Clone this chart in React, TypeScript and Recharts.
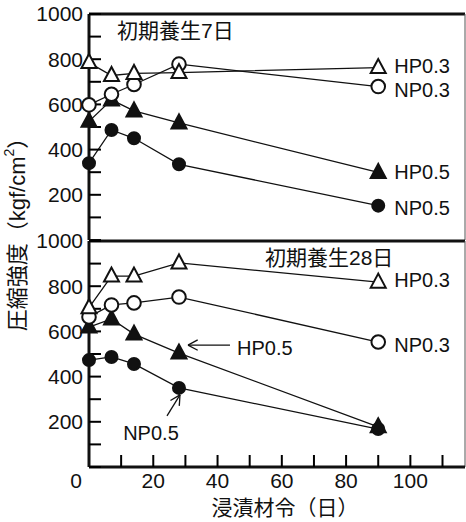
import { LineChart, Line, XAxis, YAxis, ReferenceLine, LabelList } from "recharts";

const FONT = "'Liberation Sans', Arial, 'Noto Sans CJK JP', sans-serif";

const days = [0, 7, 14, 28, 90];

// 初期養生7日
const hp03_7 = [785, 728, 737, 741, 763];
const np03_7 = [598, 645, 688, 778, 679];
const hp05_7 = [525, 620, 571, 518, 299];
const np05_7 = [340, 487, 450, 335, 152];

// 初期養生28日
const hp03_28 = [705, 845, 845, 903, 818];
const np03_28 = [664, 717, 726, 752, 553];
const hp05_28 = [619, 655, 588, 504, 178];
const np05_28 = [473, 487, 456, 350, 168];

const yTicks = [0, 100, 200, 300, 400, 500, 600, 700, 800, 900, 1000];
const yLabels = [200, 400, 600, 800, 1000];
const xTicks = [0, 10, 20, 30, 40, 50, 60, 70, 80, 90, 100, 110];
const xLabels = [0, 20, 40, 60, 80, 100];

const X_MAX = 117;
const Y_MAX = 1000;

const data7 = days.map((d, i) => ({ day: d, hp03: hp03_7[i], np03: np03_7[i], hp05: hp05_7[i], np05: np05_7[i] }));
const data28 = days.map((d, i) => ({ day: d, hp03: hp03_28[i], np03: np03_28[i], hp05: hp05_28[i], np05: np05_28[i] }));

const W = 466;
const H = 522;
const PLOT_L = 89;
const PLOT_R = W - 1;
const PANELS = [
  { top: 14, bottom: 240 },
  { top: 241, bottom: 467 },
];

// markers
const triangle = (filled: boolean) => (p: any) => {
  const { cx, cy, index } = p;
  if (cx == null || cy == null) return <g key={index} />;
  return (
    <polygon
      key={index}
      points={`${cx},${cy - 8.5} ${cx - 7.5},${cy + 5.5} ${cx + 7.5},${cy + 5.5}`}
      fill={filled ? "#111" : "#fff"}
      stroke="#111"
      strokeWidth={2}
    />
  );
};

const circle = (filled: boolean) => (p: any) => {
  const { cx, cy, index } = p;
  if (cx == null || cy == null) return <g key={index} />;
  return <circle key={index} cx={cx} cy={cy} r={filled ? 6 : 6.8} fill={filled ? "#111" : "#fff"} stroke="#111" strokeWidth={2} />;
};

const endLabel = (name: string, dy: number) => (p: any) => {
  if (p.index !== days.length - 1) return null;
  return (
    <text x={p.x + 16} y={p.y + dy} fontSize={20} fontFamily={FONT} fill="#111" dominantBaseline="central">
      {name}
    </text>
  );
};

function arrowHead(hx: number, hy: number, tx: number, ty: number) {
  const len = Math.hypot(tx - hx, ty - hy);
  const ux = (tx - hx) / len;
  const uy = (ty - hy) / len;
  const a = (28 * Math.PI) / 180;
  const l = 11;
  const r1 = [ux * Math.cos(a) - uy * Math.sin(a), ux * Math.sin(a) + uy * Math.cos(a)];
  const r2 = [ux * Math.cos(-a) - uy * Math.sin(-a), ux * Math.sin(-a) + uy * Math.cos(-a)];
  return (
    <g stroke="#111" strokeWidth={1.3} fill="none">
      <line x1={hx} y1={hy} x2={tx} y2={ty} />
      <line x1={hx} y1={hy} x2={hx + r1[0] * l} y2={hy + r1[1] * l} />
      <line x1={hx} y1={hy} x2={hx + r2[0] * l} y2={hy + r2[1] * l} />
    </g>
  );
}

const hpArrow = (p: any) => {
  if (p.index !== 3) return null;
  const { x, y } = p;
  return (
    <g>
      {arrowHead(x + 9, y - 8, x + 51, y - 8)}
      <text x={x + 58} y={y - 5} fontSize={20} fontFamily={FONT} fill="#111" dominantBaseline="central">
        HP0.5
      </text>
    </g>
  );
};

const npArrow = (p: any) => {
  if (p.index !== 3) return null;
  const { x, y } = p;
  return (
    <g>
      {arrowHead(x + 1, y + 7, x - 12, y + 28)}
      <text x={x - 28} y={y + 52} fontSize={20} fontFamily={FONT} fill="#111" textAnchor="middle">
        NP0.5
      </text>
    </g>
  );
};

const tickStyle = { fontSize: 21, fontFamily: FONT, fill: "#111" };

function Panel({ data, top, bottom, showX, labels }: { data: any[]; top: number; bottom: number; showX: boolean; labels: "7" | "28" }) {
  return (
    <LineChart width={W} height={H} data={data} margin={{ top, right: W - PLOT_R, bottom: showX ? 0 : bottom, left: 0 }}>
      <XAxis
        dataKey="day"
        type="number"
        domain={[0, X_MAX]}
        ticks={xTicks}
        interval={0}
        height={showX ? bottom : 0}
        tickSize={-12}
        tickMargin={18}
        tickLine={{ stroke: "#000", strokeWidth: 2 }}
        axisLine={{ stroke: "#111", strokeWidth: 3 }}
        tick={tickStyle}
        tickFormatter={(v: number) => (showX && xLabels.includes(v) && v !== 0 ? String(v) : "")}
      />
      <YAxis
        type="number"
        domain={[0, Y_MAX]}
        ticks={yTicks}
        interval={0}
        width={PLOT_L}
        tickSize={-12}
        tickMargin={18}
        tickLine={{ stroke: "#000", strokeWidth: 2 }}
        axisLine={{ stroke: "#111", strokeWidth: 3 }}
        tick={tickStyle}
        tickFormatter={(v: number) => (yLabels.includes(v) ? String(v) : "")}
      />
      <ReferenceLine y={Y_MAX} stroke="#111" strokeWidth={3} />
      <ReferenceLine x={X_MAX} stroke="#555" strokeWidth={1} />
      <Line dataKey="np05" stroke="#111" strokeWidth={1.3} dot={circle(true)} isAnimationActive={false}>
        {labels === "7" ? <LabelList dataKey="np05" content={endLabel("NP0.5", 2)} /> : <LabelList dataKey="np05" content={npArrow} />}
      </Line>
      <Line dataKey="hp05" stroke="#111" strokeWidth={1.3} dot={triangle(true)} isAnimationActive={false}>
        {labels === "7" ? <LabelList dataKey="hp05" content={endLabel("HP0.5", 0)} /> : <LabelList dataKey="hp05" content={hpArrow} />}
      </Line>
      <Line dataKey="np03" stroke="#111" strokeWidth={1.3} dot={circle(false)} isAnimationActive={false}>
        <LabelList dataKey="np03" content={endLabel("NP0.3", 3)} />
      </Line>
      <Line dataKey="hp03" stroke="#111" strokeWidth={1.3} dot={triangle(false)} isAnimationActive={false}>
        <LabelList dataKey="hp03" content={endLabel("HP0.3", -2)} />
      </Line>
    </LineChart>
  );
}

export default function App() {
  return (
    <div style={{ position: "absolute", left: 0, top: 0, width: W, height: H, overflow: "hidden" }}>
      <div style={{ position: "absolute", left: 0, top: 0 }}>
        <Panel data={data7} top={PANELS[0].top} bottom={H - PANELS[0].bottom} showX={false} labels="7" />
      </div>
      <div style={{ position: "absolute", left: 0, top: 0 }}>
        <Panel data={data28} top={PANELS[1].top} bottom={H - PANELS[1].bottom} showX={true} labels="28" />
      </div>
      <svg width={W} height={H} style={{ position: "absolute", left: 0, top: 0, pointerEvents: "none" }}>
        <text x={76} y={480} fontSize={21} fontFamily={FONT} fill="#111" textAnchor="middle" dominantBaseline="central">0</text>
        <text x={117} y={38} fontSize={21} fontFamily={FONT} fill="#111">初期養生7日</text>
        <text x={265} y={265} fontSize={21} fontFamily={FONT} fill="#111">初期養生28日</text>
        <text x={285} y={515} fontSize={21} fontFamily={FONT} fill="#111" textAnchor="middle">浸漬材令（日）</text>
        <text transform="translate(17,229) rotate(-90)" fontSize={22} fontFamily={FONT} fill="#111" textAnchor="middle" dominantBaseline="central">
          圧縮強度（kgf/cm<tspan fontSize={14} dy={-8}>2</tspan>
          <tspan dy={8}>）</tspan>
        </text>
      </svg>
    </div>
  );
}
